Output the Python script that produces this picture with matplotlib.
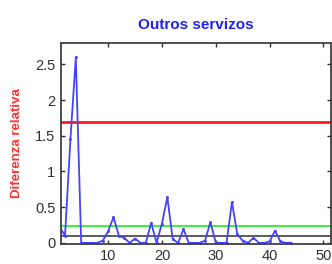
import numpy as np
import matplotlib.pyplot as plt

# datos
dias = [1, 2, 3, 4, 5, 6, 7, 8, 9, 10, 11, 12, 13, 14, 15, 16, 17, 18, 19, 20, 21, 22,
        23, 24, 25, 26, 27, 28, 29, 30, 31, 32, 33, 34, 35, 36, 37, 38, 39, 40, 41, 42, 43, 44]
diferenza = [0.22, 0.10, 1.45, 2.60, 0.0, 0.0, 0.0, 0.0, 0.03, 0.16, 0.36, 0.10, 0.07, 0.0,
             0.06, 0.0, 0.0, 0.28, 0.0, 0.27, 0.64, 0.05, 0.0, 0.19, 0.0, 0.0, 0.0, 0.03,
             0.29, 0.0, 0.0, 0.0, 0.57, 0.12, 0.03, 0.0, 0.07, 0.0, 0.0, 0.02, 0.17, 0.02,
             0.0, 0.0]
limiar_vermello = 1.69
limiar_verde = 0.235
liña_negra = 0.09

yticks = [0, 0.5, 1, 1.5, 2, 2.5]
yticklabels = ['0', '0.5', '1', '1.5', '2', '2.5']
xticks = [10, 20, 30, 40, 50]
xticklabels = ['10', '20', '30', '40', '50']

plt.rcParams['font.family'] = ['Liberation Sans', 'DejaVu Sans']

fig = plt.figure(figsize=(3.32, 2.64), dpi=100)
ax = fig.add_axes([61 / 332, 20.3 / 264, 270 / 332, 200.7 / 264])

ax.axhline(limiar_vermello, color='#ff1a1a', lw=2)
ax.axhline(limiar_verde, color='#44ee44', lw=1.5)
ax.axhline(liña_negra, color='#404040', lw=1.2)
ax.plot(dias, diferenza, color='#4444ff', lw=1.3, marker='.', markersize=2.2)

ax.set_xlim(1.25, 51.4)
ax.set_ylim(-0.012, 2.8)
ax.set_xticks(xticks)
ax.set_xticklabels(xticklabels)
ax.set_yticks(yticks)
ax.set_yticklabels(yticklabels)
ax.tick_params(direction='in', length=3, width=1, top=True, right=True,
               labelsize=10.5, labelcolor='#303030', color='#303030', pad=4)

for s in ax.spines.values():
    s.set_color('#404040')
    s.set_linewidth(1.3)

ax.set_title('Outros servizos', color='#2020ff', fontsize=11, fontweight='bold', pad=10)
ax.set_ylabel('Diferenza relativa', color='#ff3030', fontsize=9.5, fontweight='bold')
ax.yaxis.set_label_coords(-0.14, 0.5)

plt.savefig('out.png', dpi=100)
